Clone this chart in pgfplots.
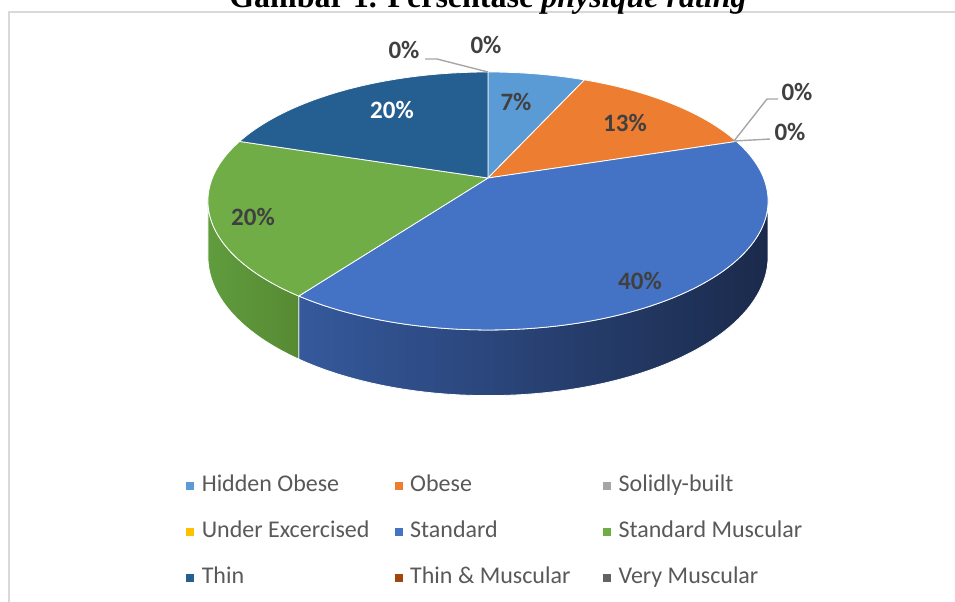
\documentclass[border=0pt]{standalone}
\usepackage{pgfplots}
\pgfplotsset{compat=1.18}
\usepackage{fontspec}
\setmainfont{Carlito}
\newfontfamily\titlefont{Liberation Serif}
\definecolor{cHO}{HTML}{5B9BD5}
\definecolor{cOB}{HTML}{ED7D31}
\definecolor{cSB}{HTML}{A5A5A5}
\definecolor{cUE}{HTML}{FFC000}
\definecolor{cST}{HTML}{4472C4}
\definecolor{cSM}{HTML}{70AD47}
\definecolor{cTH}{HTML}{255E91}
\definecolor{cTM}{HTML}{9E480E}
\definecolor{cVM}{HTML}{636363}
\definecolor{stL}{HTML}{35599C}
\definecolor{stR}{HTML}{1B2A4B}
\definecolor{smL}{HTML}{609C3E}
\definecolor{smR}{HTML}{578A33}
\definecolor{labC}{HTML}{404040}
\definecolor{legC}{HTML}{595959}
\definecolor{frameC}{HTML}{D9D9D9}
\definecolor{leadC}{HTML}{A6A6A6}
% percentages (share of respondents)
\def\vHO{6.6667}\def\vOB{13.3333}\def\vSB{0}\def\vUE{0}
\def\vST{40}\def\vSM{20}\def\vTH{20}\def\vTM{0}\def\vVM{0}
\pgfmathsetmacro\aA{0}
\pgfmathsetmacro\aB{\aA+3.6*\vHO}
\pgfmathsetmacro\aC{\aB+3.6*\vOB}
\pgfmathsetmacro\aD{\aC+3.6*\vSB+3.6*\vUE}
\pgfmathsetmacro\aE{\aD+3.6*\vST}
\pgfmathsetmacro\aF{\aE+3.6*\vSM}
\pgfmathsetmacro\aG{\aF+3.6*\vTH}
\newcommand{\legimg}[1]{\addlegendimage{legend image code/.code={\fill[#1] (0pt,-1.75pt) rectangle (3.5pt,1.75pt);}}}
\begin{document}
\begin{tikzpicture}
\begin{axis}[
  scale only axis, width=477.5pt, height=300.5pt,
  xmin=0, xmax=955, ymin=0, ymax=601, y dir=reverse,
  hide axis, clip=false,
  declare function={
    DD(\t)=1+0.178*cos(\t);
    PX(\t)=488+275.6*sin(\t)/DD(\t);
    PY(\t)=178-124.9*cos(\t)/DD(\t);
    HH(\t)=54/DD(\t);
    TT(\s,\a,\b)=(\s<=1) ? (\a+\s*(\b-\a)) : ((\s<=2) ? \b : (\b-(\s-2)*(\b-\a)));
    OF(\s,\a,\b)=(\s<=1) ? 0 : ((\s<=2) ? (\s-1)*HH(\b) : HH(\b-(\s-2)*(\b-\a)));
  },
  legend columns=3,
  legend cell align=left,
  legend style={draw=none, fill=none, at={(axis cs:180,470)}, anchor=north west,
    font=\fontsize{12}{14}\selectfont\color{legC},
    nodes={inner sep=0pt, text height=8.5pt, text depth=2.5pt},
    row sep=12pt,
    /tikz/every odd column/.append style={column sep=3.8pt}},
]
% frame
\draw[frameC, line width=1pt] (9,700) -- (9,11.5) -- (1000,11.5);
% side faces
\addplot[forget plot, draw=white, line width=0.4pt, left color=stL, right color=stR, domain=0:3, samples=181, variable=\s]
  ({PX(TT(\s,100.3,\aE))}, {PY(TT(\s,100.3,\aE))+OF(\s,100.3,\aE)}) -- cycle;
\addplot[forget plot, draw=white, line width=0.4pt, left color=smL, right color=smR, domain=0:3, samples=121, variable=\s]
  ({PX(TT(\s,\aE,259.7))}, {PY(TT(\s,\aE,259.7))+OF(\s,\aE,259.7)}) -- cycle;
% top surfaces
\addplot[forget plot, fill=cHO, draw=white, line width=0.4pt, domain=\aA:\aB, samples=30] ({PX(x)},{PY(x)}) -- (488,178) -- cycle;
\addplot[forget plot, fill=cOB, draw=white, line width=0.4pt, domain=\aB:\aC, samples=40] ({PX(x)},{PY(x)}) -- (488,178) -- cycle;
\addplot[forget plot, fill=cST, draw=white, line width=0.4pt, domain=\aD:\aE, samples=100] ({PX(x)},{PY(x)}) -- (488,178) -- cycle;
\addplot[forget plot, fill=cSM, draw=white, line width=0.4pt, domain=\aE:\aF, samples=60] ({PX(x)},{PY(x)}) -- (488,178) -- cycle;
\addplot[forget plot, fill=cTH, draw=white, line width=0.4pt, domain=\aF:\aG, samples=60] ({PX(x)},{PY(x)}) -- (488,178) -- cycle;
% leader lines
\draw[leadC, line width=0.7pt] (488,72) -- (437,59) -- (425,59);
\draw[leadC, line width=0.7pt] (734,141) -- (767,99) -- (778,99);
\draw[leadC, line width=0.7pt] (734,141) -- (770,139);
% data labels
\begin{scope}[every node/.style={font=\bfseries\fontsize{12.5}{15}\selectfont, text=labC}]
\node at (516,102) {7\%};
\node at (625,123) {13\%};
\node at (640,281) {40\%};
\node at (253,217) {20\%};
\node[text=white] at (392,110) {20\%};
\node at (404,50) {0\%};
\node at (486,45) {0\%};
\node at (797,92) {0\%};
\node at (790,132) {0\%};
\end{scope}
% title
\node[font=\titlefont\bfseries\fontsize{16}{19}\selectfont, anchor=base] at (488,7) {Gambar 1. Persentase \textit{physique rating}};
% legend
\legimg{cHO}\addlegendentry{\makebox[96.5pt][l]{Hidden Obese}}
\legimg{cOB}\addlegendentry{\makebox[96.5pt][l]{Obese}}
\legimg{cSB}\addlegendentry{\makebox[96.5pt][l]{Solidly-built}}
\legimg{cUE}\addlegendentry{\makebox[96.5pt][l]{Under Excercised}}
\legimg{cST}\addlegendentry{\makebox[96.5pt][l]{Standard}}
\legimg{cSM}\addlegendentry{\makebox[96.5pt][l]{Standard Muscular}}
\legimg{cTH}\addlegendentry{\makebox[96.5pt][l]{Thin}}
\legimg{cTM}\addlegendentry{\makebox[96.5pt][l]{Thin \& Muscular}}
\legimg{cVM}\addlegendentry{\makebox[96.5pt][l]{Very Muscular}}
\end{axis}
\pgfresetboundingbox
\path[use as bounding box] (current axis.south west) rectangle (current axis.north east);
\end{tikzpicture}
\end{document}
